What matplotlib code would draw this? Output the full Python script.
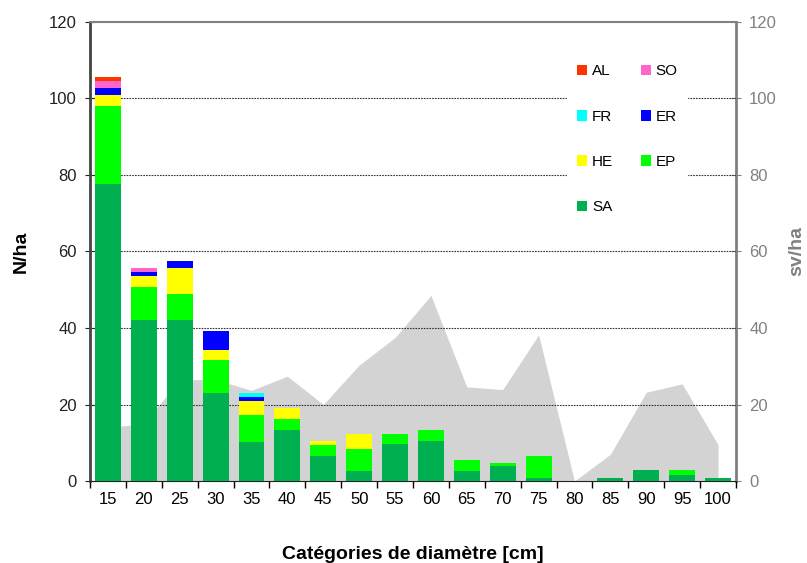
import matplotlib.pyplot as plt
import numpy as np

plt.rcParams['font.family'] = ['Liberation Sans', 'DejaVu Sans']

# categories de diametre
cats = ['15', '20', '25', '30', '35', '40', '45', '50', '55', '60',
        '65', '70', '75', '80', '85', '90', '95', '100']

# N/ha par essence
SA = [77.7, 42.2, 42.2, 22.9, 10.3, 13.3, 6.6, 2.7, 9.6, 10.4,
      2.7, 3.8, 0.8, 0, 0.9, 2.8, 1.7, 0.9]
EP = [20.3, 8.6, 6.6, 8.7, 6.9, 2.8, 2.9, 5.8, 2.8, 3.0,
      2.9, 0.9, 5.8, 0, 0, 0, 1.1, 0]
HE = [2.8, 2.8, 6.8, 2.7, 3.8, 2.9, 0.9, 3.9, 0, 0,
      0, 0, 0, 0, 0, 0, 0, 0]
ER = [1.9, 1.0, 2.0, 5.0, 1.0, 0, 0, 0, 0, 0,
      0, 0, 0, 0, 0, 0, 0, 0]
FR = [0, 0, 0, 0, 1.1, 0, 0, 0, 0, 0,
      0, 0, 0, 0, 0, 0, 0, 0]
SO = [1.8, 1.0, 0, 0, 0, 0, 0, 0, 0, 0,
      0, 0, 0, 0, 0, 0, 0, 0]
AL = [1.2, 0, 0, 0, 0, 0, 0, 0, 0, 0,
      0, 0, 0, 0, 0, 0, 0, 0]

# sv/ha
sv = [14.0, 15.0, 26.5, 26.5, 23.7, 27.4, 20.0, 30.3, 37.5, 48.5,
      24.6, 23.9, 38.2, 0, 7.0, 23.2, 25.4, 9.5]

series = [('SA', SA, '#00B050'), ('EP', EP, '#00FF00'), ('HE', HE, '#FFFF00'),
          ('ER', ER, '#0000FF'), ('FR', FR, '#00FFFF'), ('SO', SO, '#FF66CC'),
          ('AL', AL, '#FF3300')]

fig = plt.figure(figsize=(8.07, 5.63), dpi=100)
ax = fig.add_axes([0.1115, 0.1456, 0.8005, 0.8154])
ax2 = ax.twinx()

x = np.arange(len(cats))

# surface sv/ha derriere
ax2.fill_between(x, sv, 0, color='#D3D3D3', linewidth=0, zorder=1)
ax2.set_ylim(0, 120)
ax2.set_yticks(range(0, 121, 20))
ax2.tick_params(axis='y', direction='inout', length=7, colors='#808080',
                labelsize=12, pad=6)
ax2.set_ylabel('sv/ha', fontsize=14, fontweight='bold', color='#808080', labelpad=8)
for s in ['left', 'top', 'bottom']:
    ax2.spines[s].set_visible(False)
ax2.spines['right'].set_color('#808080')
ax2.spines['right'].set_linewidth(2)

ax.set_zorder(ax2.get_zorder() + 1)
ax.patch.set_visible(False)

bottom = np.zeros(len(cats))
handles = {}
for name, vals, col in series:
    b = ax.bar(x, vals, width=0.72, bottom=bottom, color=col, zorder=3, linewidth=0)
    handles[name] = b
    bottom += np.array(vals)

ax.set_xlim(-0.5, len(cats) - 0.5)
ax.set_ylim(0, 120)
ax.set_yticks(range(0, 121, 20))
ax.set_xticks(x)
ax.set_xticklabels(cats)
ax.set_xticks(np.arange(-0.5, len(cats), 1), minor=True)
ax.tick_params(axis='x', which='major', length=0, labelsize=12, pad=8)
ax.tick_params(axis='x', which='minor', length=5, direction='out', width=1)
ax.tick_params(axis='y', direction='inout', length=7, labelsize=12, pad=6, colors='#222222')

for v in range(20, 101, 20):
    ax.axhline(v, color='#333333', linestyle=(0, (1.5, 1)), linewidth=0.8, zorder=2)

ax.spines['left'].set_linewidth(2)
ax.spines['left'].set_color('#444444')
ax.spines['bottom'].set_color('#222222')
ax.spines['top'].set_color('#808080')
ax.spines['top'].set_linewidth(1.5)
ax.spines['right'].set_visible(False)

ax.set_ylabel('N/ha', fontsize=14, fontweight='bold', labelpad=14)
ax.set_xlabel('Catégories de diamètre [cm]', fontsize=14, fontweight='bold', labelpad=28)

order = ['AL', 'FR', 'HE', 'SA', 'SO', 'ER', 'EP']
leg = ax.legend([handles[n] for n in order], order, ncol=2, loc='upper right',
                bbox_to_anchor=(0.936, 0.944), frameon=True, fontsize=11,
                handlelength=0.7, handleheight=0.7, handletextpad=0.3,
                labelspacing=2.05, columnspacing=1.8, borderpad=0.6)
leg.get_frame().set_edgecolor('white')
leg.get_frame().set_facecolor('white')
leg.get_frame().set_alpha(1)
leg.set_zorder(5)

fig.savefig('out.png', dpi=100)
